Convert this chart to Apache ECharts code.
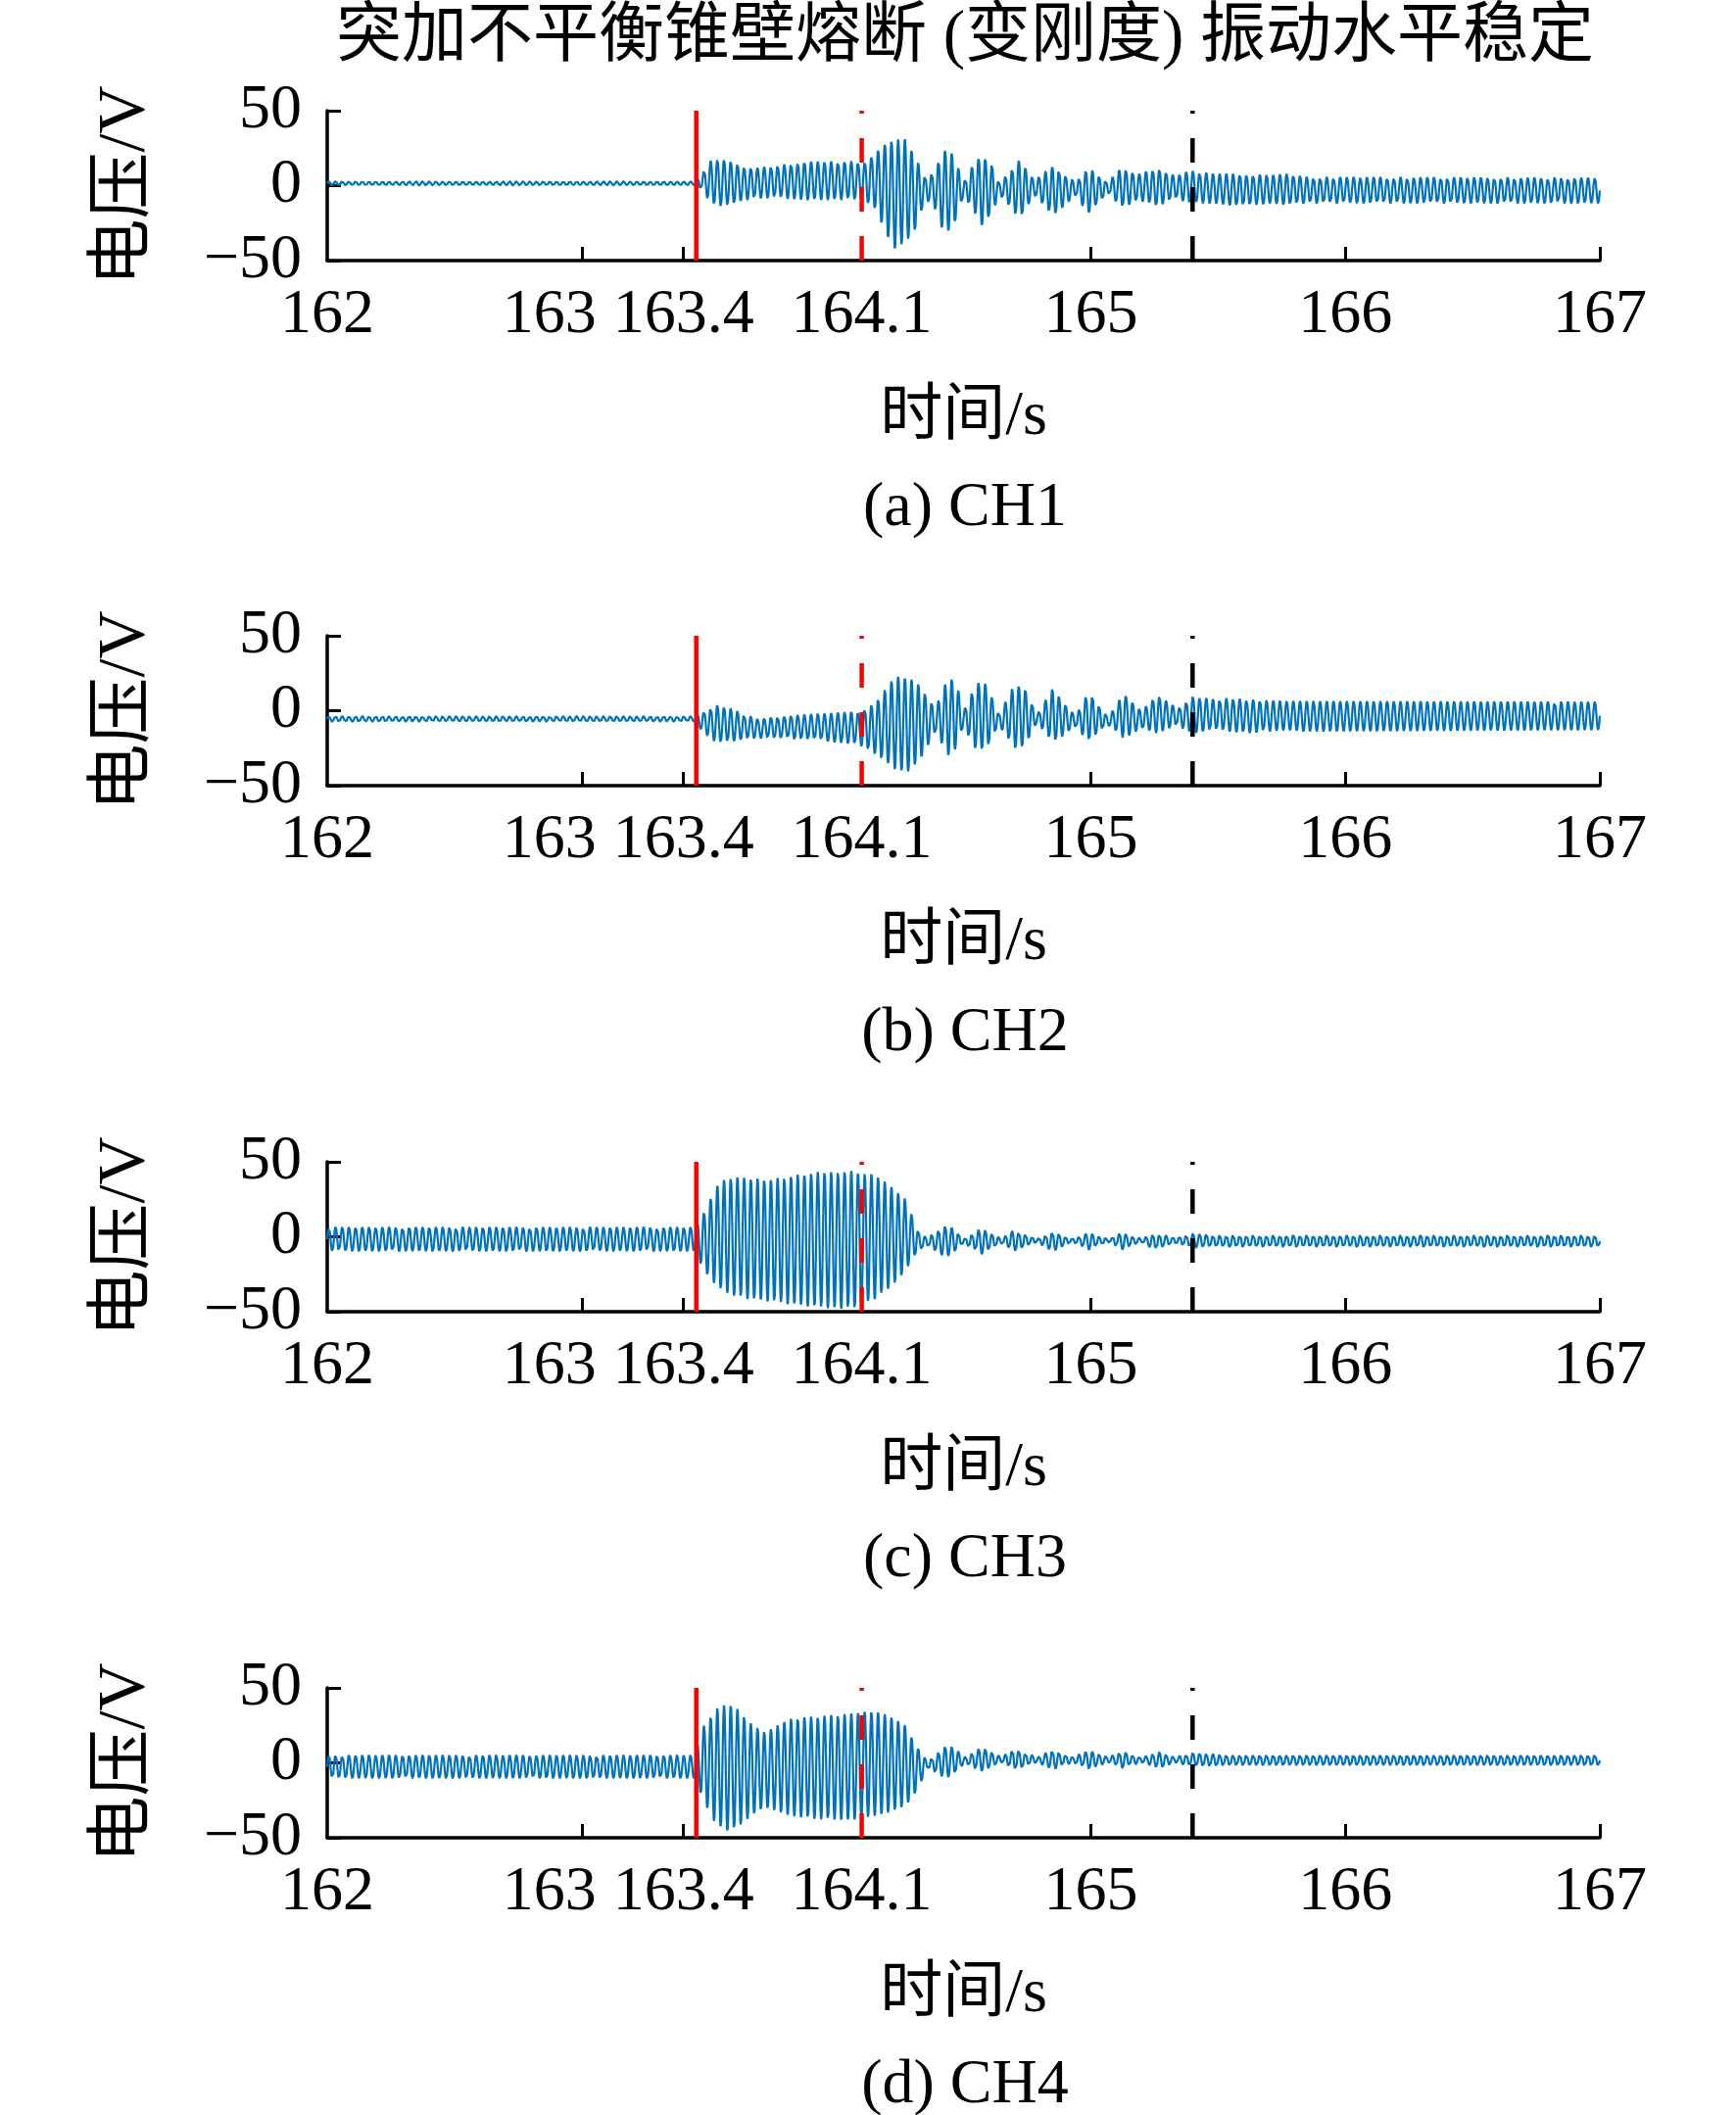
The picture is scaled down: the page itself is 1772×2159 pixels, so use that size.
<!DOCTYPE html>
<html><head><meta charset="utf-8">
<script src="https://cdn.jsdelivr.net/npm/echarts@6/dist/echarts.min.js"></script>
<style>html,body{margin:0;padding:0;background:#fff}#c{width:1772px;height:2159px}</style>
</head><body><div id="c"></div>
<script>
// ---------------- data ----------------
const mainTitle = '突加不平衡锥壁熔断 (变刚度) 振动水平稳定';
const panelCaptions = ['(a) CH1', '(b) CH2', '(c) CH3', '(d) CH4'];
const xAxisName = '时间/s';
const yAxisName = '电压/V';
const xTickValues = [162, 163, 163.4, 164.1, 165, 166, 167];
const yTickValues = [-50, 0, 50];
const eventRedSolid = 163.45;
const eventRedDashed = 164.1;
const eventBlackDashed = 165.4;
const carrierHz = 38;          // dominant oscillation frequency
const sampleStep = 0.0005;     // s

// envelope knots (time, upper peak, lower trough) of each channel, in V
const ch1Time  = [162.00,163.44,163.47,163.51,163.545,163.59,163.64,163.69,163.78,163.88,164.06,164.10,164.15,164.205,164.23,164.27,164.31,164.35,164.385,164.42,164.456,164.50,164.54,164.57,164.61,164.64,164.72,164.78,164.85,164.94,164.99,165.07,165.12,165.19,165.26,165.33,165.39,165.49,165.58,165.71,165.77,165.85,167.00];
const ch1Upper = [3.0,3.0,8,17.5,18,16.5,13,12,14,16,16.4,15,22,30,31,31,20,6,10,24,22,3,15,21,15,2,17.5,4,13.4,3,12,3,12,8,12,7,10,8,8,7,8,6,5.5];
const ch1Lower = [0.0,0.0,-3,-12,-14,-13,-10,-8.5,-8.5,-9.6,-9.6,-10,-15,-35,-42,-38,-30,-10,-14,-31,-30,-8,-17,-27,-20,-6,-22.6,-7,-20.6,-7,-19,-6,-15,-10,-14,-9,-12,-12,-14,-12,-13,-12,-12];

const ch2Time  = [162.00,163.44,163.48,163.53,163.58,163.64,163.70,163.80,163.91,164.09,164.15,164.23,164.28,164.33,164.39,164.44,164.47,164.50,164.55,164.59,164.64,164.70,164.74,164.79,164.85,164.94,164.99,165.07,165.13,165.20,165.26,165.34,165.40,165.49,165.54,165.62,165.77,165.84,167.00];
const ch2Upper = [-3.5,-3.5,0,4.3,2,-2,-5,-3,-2,-0.4,5.4,22.8,22.8,17,2,22.5,20,0,19.6,18.5,-2,17.4,16,-2,15,-3,13,-4,12,0,11,2,9.8,7.6,8.5,7.6,6.5,6.5,6.1];
const ch2Lower = [-7.5,-7.5,-15,-21.7,-21,-19,-18.5,-19,-19.6,-22.8,-29,-39,-41,-32.6,-15,-30,-26,-11,-27,-26,-10,-26,-24,-8,-22,-11,-20.6,-10,-18.5,-12,-15,-10,-16,-13,-14,-15,-13,-14,-13];

const ch3Time  = [162.00,163.44,163.48,163.54,163.59,163.67,163.75,163.83,163.91,163.99,164.07,164.16,164.22,164.27,164.30,164.33,164.36,164.43,164.47,164.50,164.57,164.65,164.70,164.79,164.85,164.93,164.99,165.07,165.12,165.20,165.25,165.33,165.40,165.50,167.00];
const ch3Upper = [6.7,6.7,17,36.6,40,39,38.7,41,43,44,44,41,33,25.8,14,2,0,8,5,-1,6,-1,5,-1,4,-1,3,-1,3,-1,2.5,0,2.4,1.5,1.5];
const ch3Lower = [-10,-10,-23,-35,-39,-42.4,-43.5,-45.7,-46.8,-48,-48,-41,-32.7,-24,-15.4,-9,-7,-14,-10,-5,-12,-5,-10,-4,-10,-4,-9,-4,-9,-4,-9,-5,-7.8,-7.4,-7.4];

const ch4Time  = [162.00,163.44,163.48,163.53,163.58,163.62,163.67,163.72,163.77,163.83,163.91,163.99,164.07,164.14,164.20,164.27,164.30,164.33,164.36,164.43,164.47,164.50,164.57,164.65,164.70,164.79,164.85,164.93,164.99,165.07,165.12,165.20,165.27,165.33,165.40,165.50,167.00];
const ch4Upper = [5.4,5.4,25.5,36.4,39.7,35,25.5,21,25.5,30,31,32,33,35,32,25.5,16.7,8,1.4,12,10,4,10.6,4,10,4,9,4,8.6,4,8,4,7.5,4,7,5.8,5.8];
const ch4Lower = [-10.6,-10.6,-26,-42.3,-46.7,-42,-34.7,-30,-32.5,-35.8,-37.5,-38,-38,-35.8,-33.6,-29,-23.7,-14,-4,-10.6,-7.3,-1,-6,0,-5.6,0,-4.7,0,-4.7,0,-4,0,-4,0,-3,-2.5,-2.5];

// ---------------- build ----------------
const channels = [
  [ch1Time, ch1Upper, ch1Lower],
  [ch2Time, ch2Upper, ch2Lower],
  [ch3Time, ch3Upper, ch3Lower],
  [ch4Time, ch4Upper, ch4Lower]
];
function envAt(ts, vs, t) {
  if (t <= ts[0]) return vs[0];
  for (let i = 0; i < ts.length - 1; i++) {
    if (t <= ts[i + 1]) {
      const r = (t - ts[i]) / (ts[i + 1] - ts[i]);
      return vs[i] + r * (vs[i + 1] - vs[i]);
    }
  }
  return vs[vs.length - 1];
}
function trace(ts, up, lo) {
  const out = [];
  const t0 = xTickValues[0], t1 = xTickValues[xTickValues.length - 1];
  const n = Math.round((t1 - t0) / sampleStep);
  for (let i = 0; i <= n; i++) {
    const t = t0 + i * sampleStep;
    const u = envAt(ts, up, t), l = envAt(ts, lo, t);
    out.push([t, (u + l) / 2 + (u - l) / 2 * Math.sin(2 * Math.PI * carrierHz * (t - t0))]);
  }
  return out;
}

const FONT = '"Liberation Serif","Times New Roman","Noto Sans CJK SC",serif';
const FS = 64;
const gridTops = [113, 649, 1186, 1723];
const gridLeft = 334, gridWidth = 1299, gridHeight = 153;
const captionOffset = 406;

const grids = [], xAxes = [], yAxes = [], series = [], graphics = [];
channels.forEach((ch, k) => {
  grids.push({ left: gridLeft, top: gridTops[k], width: gridWidth, height: gridHeight });
  xAxes.push({
    gridIndex: k, type: 'value', min: xTickValues[0], max: xTickValues[xTickValues.length - 1],
    name: xAxisName, nameLocation: 'middle', nameGap: 128, nameMoveOverlap: false,
    nameTextStyle: { fontFamily: FONT, fontSize: FS, color: '#000' },
    axisLine: { show: true, onZero: false, lineStyle: { color: '#000', width: 3.5 } },
    axisTick: { show: true, inside: true, length: 14, customValues: xTickValues.slice(1), lineStyle: { color: '#000', width: 3 } },
    axisLabel: {
      customValues: xTickValues, margin: 24, fontFamily: FONT, fontSize: FS, color: '#000',
      hideOverlap: false, showMinLabel: true, showMaxLabel: true,
      formatter: v => (Math.abs(v - 163) < 1e-9 ? '{l|163}' : String(v)),
      rich: { l: { fontFamily: FONT, fontSize: FS, color: '#000', padding: [0, 66, 0, 0] } }
    },
    splitLine: { show: false }
  });
  yAxes.push({
    gridIndex: k, type: 'value', min: -50, max: 50, interval: 50,
    name: yAxisName, nameLocation: 'middle', nameGap: 172, nameRotate: 90, nameMoveOverlap: false,
    nameTextStyle: { fontFamily: FONT, fontSize: 68, color: '#000' },
    axisLine: { show: true, onZero: false, lineStyle: { color: '#000', width: 3.5 } },
    axisTick: { show: true, inside: true, length: 14, lineStyle: { color: '#000', width: 3 } },
    axisLabel: { margin: 26, fontFamily: FONT, fontSize: FS, color: '#000',
      formatter: v => (v < 0 ? '\u2212' + Math.abs(v) : String(v)) },
    splitLine: { show: false }
  });
  series.push({
    type: 'line', xAxisIndex: k, yAxisIndex: k, data: trace(ch[0], ch[1], ch[2]),
    showSymbol: false, symbol: 'none', lineStyle: { color: '#0072BD', width: 2.2 }, z: 2, silent: true
  });
  const vline = (x, color, dash) => ({
    type: 'line', xAxisIndex: k, yAxisIndex: k, data: [[x, yTickValues[0]], [x, yTickValues[2]]],
    showSymbol: false, symbol: 'none', silent: true, z: 3,
    lineStyle: { color, width: 4.5, type: dash ? [25, 25] : 'solid', cap: 'butt' }
  });
  series.push(vline(eventRedSolid, '#FF0000', false));
  series.push(vline(eventRedDashed, '#FF0000', true));
  series.push(vline(eventBlackDashed, '#000000', true));
  graphics.push({
    type: 'text', x: 985, y: gridTops[k] + captionOffset,
    style: { text: panelCaptions[k], fontFamily: FONT, fontSize: FS, fill: '#000', align: 'center', verticalAlign: 'middle' }
  });
});
graphics.push({
  type: 'text', x: 985, y: 39,
  style: { text: mainTitle, fontFamily: FONT, fontSize: 67, fill: '#000', align: 'center', verticalAlign: 'middle' }
});

const chart = echarts.init(document.getElementById('c'), null, { renderer: 'canvas' });
chart.setOption({
  backgroundColor: '#fff',
  animation: false,
  grid: grids, xAxis: xAxes, yAxis: yAxes, series, graphic: graphics
});
</script></body></html>
